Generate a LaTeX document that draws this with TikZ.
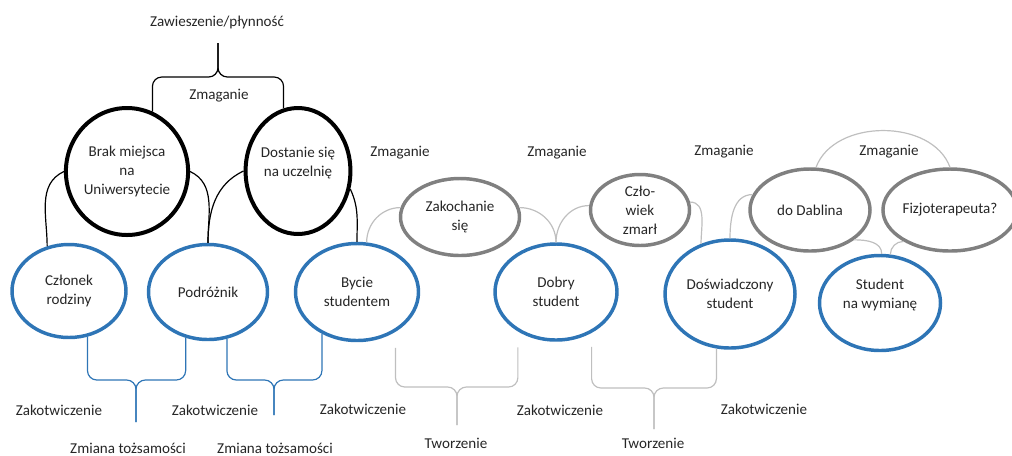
\documentclass[tikz,border=0pt]{standalone}
\usepackage{fontspec}
\setmainfont{Carlito}
\usetikzlibrary{shapes.geometric}
\definecolor{ringblue}{RGB}{46,117,182}
\definecolor{ringgrey}{RGB}{128,128,128}
\definecolor{linkgrey}{RGB}{191,191,191}
\definecolor{txt}{RGB}{38,38,38}
\begin{document}
\begin{tikzpicture}[x=0.75pt,y=0.75pt,
    every node/.style={font=\fontsize{11.3}{14.3}\selectfont, text=txt, align=center},
    oval/.style 2 args={ellipse, inner sep=0pt, minimum width=#1*0.75pt, minimum height=#2*0.75pt},
    blackring/.style={draw=black, line width=3pt},
    bluering/.style={draw=ringblue, line width=2.6pt},
    greyring/.style={draw=ringgrey, line width=2.6pt},
    blacklink/.style={draw=black, line width=0.9pt},
    greylink/.style={draw=linkgrey, line width=0.9pt},
    blackbrace/.style={draw=black, line width=0.9pt, rounded corners=7pt},
    bluebrace/.style={draw=ringblue, line width=0.9pt, rounded corners=7pt},
    greybrace/.style={draw=linkgrey, line width=0.9pt, rounded corners=7pt}]
    \useasboundingbox (0,0) rectangle (1012,-455);

    \node[oval={111}{127}, blackring] (brak) at (127,-171.5) {Brak miejsca\\na\\Uniwersytecie};
    \node[oval={99}{126}, blackring] (dost) at (298,-171) {Dostanie się\\na uczelnię\\\mbox{}};
    \node[oval={114}{93}, bluering] (czl) at (69,-291) {Członek\\rodziny};
    \node[oval={119}{95}, bluering] (pod) at (208,-292) {Podróżnik};
    \node[oval={123}{97}, bluering] (byc) at (357,-292) {Bycie\\studentem};
    \node[oval={122}{96}, bluering] (dob) at (556,-292) {Dobry\\student};
    \node[oval={130}{108}, bluering] (dos) at (730,-294) {Doświadczony\\student};
    \node[oval={121}{95}, bluering] (stu) at (880,-303) {Student\\na wymianę\\\mbox{}};
    \node[oval={119}{77}, greyring] (zak) at (460,-217) {Zakochanie\\się};
    \node[oval={99}{71}, greyring] (czlw) at (640,-210) {Czło-\\wiek\\zmarł};
    \node[oval={120}{82}, greyring] (dab) at (810,-210) {do Dablina};
    \node[oval={121}{82}, greyring] (fiz) at (950,-210) {Fizjoterapeuta?};

    \node (zaw) at (217,-22) {Zawieszenie/płynność};
    \node (zm0) at (219,-96) {Zmaganie};
    \foreach \x/\y [count=\i] in {400/153,557/153,724/152,889/152}
        \node (zm\i) at (\x,-\y) {Zmaganie};
    \foreach \x/\y [count=\i] in {59/410,215/410,363/409,560/410,764/409}
        \node (kot\i) at (\x,-\y) {Zakotwiczenie};
    \node (zmi1) at (128,-448) {Zmiana tożsamości};
    \node (zmi2) at (275,-448) {Zmiana tożsamości};
    \node (two1) at (456,-443) {Tworzenie};
    \node (two2) at (653,-443) {Tworzenie};

    \draw[blacklink] (brak.west) to[out=205,in=90] (czl.116);
    \draw[blacklink] (brak.east) to[out=-25,in=90] (pod.north);
    \draw[blacklink] (dost.west) to[out=205,in=90] (pod.north);
    \draw[blacklink] (dost.-19) to[out=-65,in=90] (byc.north);

    \draw[greylink] (byc.79) to[out=90,in=180] (zak.171);
    \draw[greylink] (zak.9) to[out=0,in=90] (dob.north);
    \draw[greylink] (dob.north) to[out=90,in=180] (czlw.175);
    \draw[greylink] (czlw.9) to[out=0,in=90] (dos.120);
    \draw[greylink] (dos.north) to[out=90,in=180] (dab.165);
    \draw[greylink] (dab.82) to[out=70,in=110] (fiz.north);
    \draw[greylink] (dab.-34) to[out=0,in=90] (stu.88);
    \draw[greylink] (fiz.-146) to[out=180,in=90] (stu.78);

    \coordinate (m0) at (218,-77);  \coordinate (t0) at (218,-43);
    \coordinate (m1) at (136,-380); \coordinate (t1) at (136,-422);
    \coordinate (m2) at (274,-380); \coordinate (t2) at (274,-415);
    \coordinate (m3) at (457,-387); \coordinate (t3) at (457,-425);
    \coordinate (m4) at (654,-388); \coordinate (t4) at (654,-429);
    \draw[blackbrace] (brak.67) |- (m0) -- (t0);
    \draw[blackbrace] (dost.103) |- (m0) -- (t0);
    \draw[bluebrace] (czl.-68) |- (m1) -- (t1);
    \draw[bluebrace] (pod.-116) |- (m1) -- (t1);
    \draw[bluebrace] (pod.-68) |- (m2) -- (t2);
    \draw[bluebrace] (byc.-130) |- (m2) -- (t2);
    \draw[greybrace] (byc.-46) ++(0,-16) |- (m3) -- (t3);
    \draw[greybrace] (dob.-134) ++(0,-16) |- (m3) -- (t3);
    \draw[greybrace] (dob.-49) ++(0,-14) |- (m4) -- (t4);
    \draw[greybrace] (dos.-104) |- (m4) -- (t4);
\end{tikzpicture}
\end{document}
